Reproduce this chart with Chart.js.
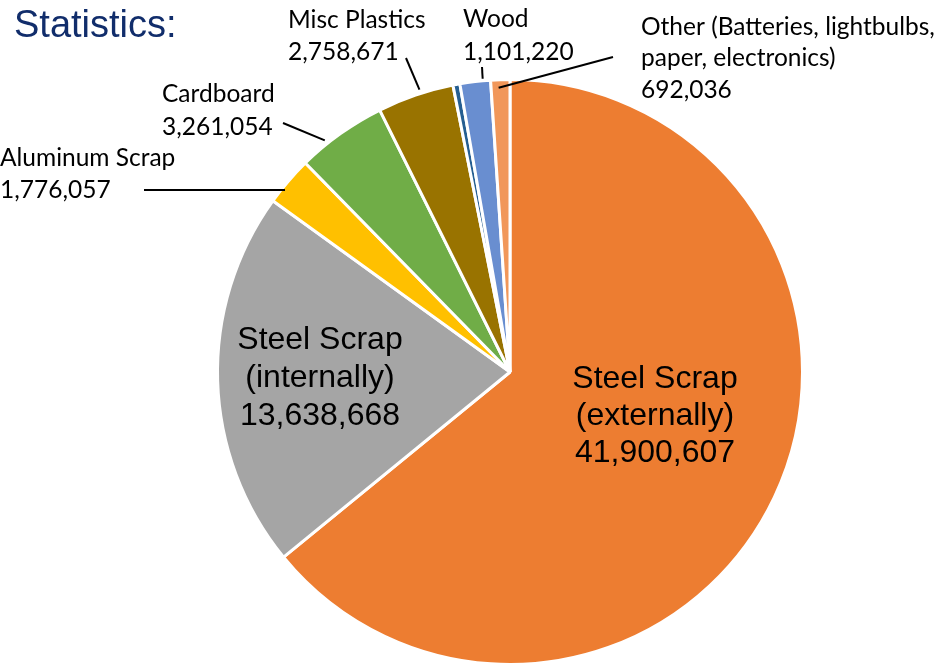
<!DOCTYPE html>
<html>
<head>
<meta charset="utf-8">
<script src="https://cdn.jsdelivr.net/npm/chart.js@4/dist/chart.umd.min.js"></script>
<style>
  html, body { margin: 0; padding: 0; background: #fff; }
</style>
</head>
<body>
<canvas id="pieChart" width="942" height="664"></canvas>
<script>
// data, clockwise from 12 o'clock
const categories = [
  "Steel Scrap (externally)",
  "Steel Scrap (internally)",
  "Aluminum Scrap",
  "Cardboard",
  "Misc Plastics",
  "",
  "Wood",
  "Other (Batteries, lightbulbs, paper, electronics)"
];
const tonnage = [41900607, 13638668, 1776057, 3261054, 2758671, 250000, 1101220, 692036];
const sliceColors = ["#ED7D31", "#A5A5A5", "#FFC000", "#70AD47", "#997300", "#255E91", "#698ED0", "#F1975A"];

// label placement (layout only)
const insideLabels = {
  0: { x: 655, y: 379, gap: 37 },
  1: { x: 320, y: 340, gap: 38 }
};
// at = where along the slice the leader line lands (0..1), flat = keep line horizontal
const outsideLabels = {
  2: { x: 0, y: 158, gap: 32, from: [144, 190], flat: true },
  3: { x: 162, y: 94, gap: 33, from: [283, 123], at: 0.32, dr: 4 },
  4: { x: 288, y: 20, gap: 32, from: [406, 58], at: 0.57, dr: 4 },
  6: { x: 463, y: 19, gap: 33, from: [482, 67], at: 0.75, dr: 2 },
  7: { x: 641, y: 27, gap: 31.5, from: [613, 57], at: 0.4, dr: -8, lines: ["Other (Batteries, lightbulbs,", "paper, electronics)"] }
};

const fmt = v => v.toLocaleString("en-US");

const labelPlugin = {
  id: "sliceLabels",
  afterDraw(chart) {
    const ctx = chart.ctx;
    const arcs = chart.getDatasetMeta(0).data;
    ctx.save();

    // title
    ctx.fillStyle = "#112D6B";
    ctx.font = "38px 'Liberation Sans', Arial, sans-serif";
    ctx.textAlign = "left";
    ctx.textBaseline = "alphabetic";
    ctx.fillText("Statistics:", 14, 37);

    // labels inside the two big slices
    ctx.fillStyle = "#000";
    ctx.font = "32px 'Liberation Sans', Arial, sans-serif";
    ctx.textAlign = "center";
    ctx.textBaseline = "middle";
    Object.keys(insideLabels).forEach(k => {
      const i = +k, L = insideLabels[k];
      const parts = categories[i].split(" (");
      const lines = [parts[0], "(" + parts[1], fmt(tonnage[i])];
      lines.forEach((t, j) => ctx.fillText(t, L.x, L.y + j * L.gap));
    });

    // outside labels with leader lines
    ctx.font = "24.5px Lato, 'Noto Sans', sans-serif";
    ctx.textAlign = "left";
    ctx.strokeStyle = "#000";
    ctx.lineWidth = 2;
    Object.keys(outsideLabels).forEach(k => {
      const i = +k, L = outsideLabels[k];
      const lines = (L.lines || [categories[i]]).concat([fmt(tonnage[i])]);
      lines.forEach((t, j) => ctx.fillText(t, L.x, L.y + j * L.gap));

      const a = arcs[i];
      let ex, ey;
      if (L.flat) {
        const dy = L.from[1] - a.y;
        ey = L.from[1];
        ex = a.x - Math.sqrt(a.outerRadius * a.outerRadius - dy * dy) + 4;
      } else {
        const ang = a.startAngle + (a.endAngle - a.startAngle) * L.at;
        const r = a.outerRadius + L.dr;
        ex = a.x + Math.cos(ang) * r;
        ey = a.y + Math.sin(ang) * r;
      }
      ctx.beginPath();
      ctx.moveTo(L.from[0], L.from[1]);
      ctx.lineTo(ex, ey);
      ctx.stroke();
    });
    ctx.restore();
  }
};

const ctx = document.getElementById("pieChart").getContext("2d");
const pieChart = new Chart(ctx, {
  type: "pie",
  data: {
    labels: categories,
    datasets: [
      {
        data: tonnage,
        backgroundColor: sliceColors,
        borderColor: "#fff",
        borderWidth: 3,
        clip: false
      }
    ]
  },
  options: {
    responsive: false,
    animation: false,
    radius: 292.5,
    layout: { padding: { left: 219, right: 141, top: 80, bottom: 0 } },
    plugins: {
      legend: { display: false },
      tooltip: { enabled: false },
      title: { display: false }
    }
  },
  plugins: [labelPlugin]
});
</script>
</body>
</html>
